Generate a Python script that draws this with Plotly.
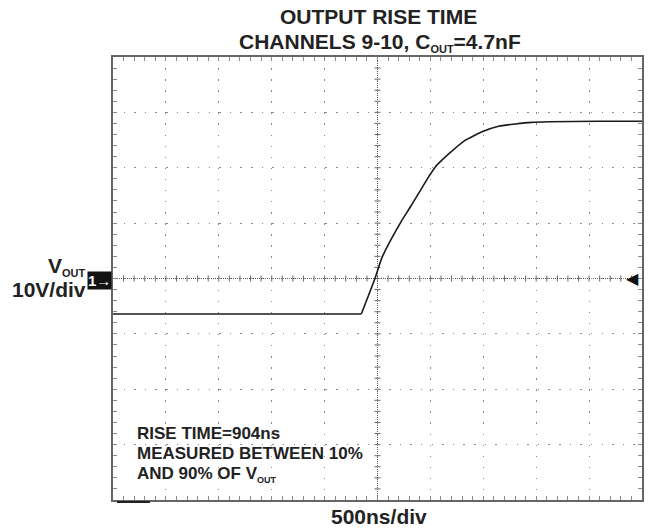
import plotly.graph_objects as go

# Trace (time in ns, voltage in V)
time_ns = [-2500, -1500, -500, -153, -24, 45, 218, 313, 485, 548, 673, 830, 862, 987, 1144, 1301, 1455, 1615, 2085, 2500]
vout_v = [-6.4, -6.4, -6.4, -6.4, 0.0, 3.9, 10.1, 13.0, 18.4, 20.2, 22.5, 25.0, 25.3, 26.5, 27.5, 27.9, 28.2, 28.3, 28.4, 28.4]

x_range = [-2500, 2500]
y_range = [-40, 40]
x_div = 500
y_div = 10
x_minor = 100
y_minor = 2

FONT = "Liberation Sans, Arial, sans-serif"
GRID = "#8a8a8a"
FRAME = "#666666"
TXT = "#222222"

fig = go.Figure()
fig.add_trace(go.Scatter(x=time_ns[:4], y=vout_v[:4], mode="lines",
                         line=dict(color="#1a1a1a", width=1.6),
                         showlegend=False, hoverinfo="skip"))
fig.add_trace(go.Scatter(x=time_ns[3:], y=vout_v[3:], mode="lines",
                         line=dict(color="#1a1a1a", width=1.6, shape="spline", smoothing=0.6),
                         showlegend=False, hoverinfo="skip"))

W, H = 650, 531
L, R, T, B = 113, 6, 57, 31
pw, ph = W - L - R, H - T - B
xper = pw / 50.0
yper = ph / 40.0

fig.update_layout(
    width=W, height=H,
    margin=dict(l=L, r=R, t=T, b=B),
    paper_bgcolor="white", plot_bgcolor="white",
    showlegend=False,
    xaxis=dict(range=x_range, dtick=x_div, tick0=0, showticklabels=False,
               ticks="inside", ticklen=4, tickcolor=GRID, tickwidth=1,
               showline=True, linecolor=FRAME, linewidth=2, mirror="ticks",
               showgrid=True, gridcolor=GRID, gridwidth=1.2,
               griddash="1.5px,%.3fpx" % (yper - 1.5),
               zeroline=False,
               minor=dict(dtick=x_minor, tick0=0, ticks="inside", ticklen=4,
                          tickcolor=GRID, tickwidth=1, showgrid=False)),
    yaxis=dict(range=y_range, dtick=y_div, tick0=0, showticklabels=False,
               ticks="inside", ticklen=4, tickcolor=GRID, tickwidth=1,
               showline=True, linecolor=FRAME, linewidth=2, mirror="ticks",
               showgrid=True, gridcolor=GRID, gridwidth=1.2,
               griddash="1.5px,%.3fpx" % (xper - 1.5),
               zeroline=False,
               minor=dict(dtick=y_minor, tick0=0, ticks="inside", ticklen=4,
                          tickcolor=GRID, tickwidth=1, showgrid=False)),
)

shapes = []
shapes.append(dict(type="line", xref="x", yref="y", x0=0, x1=0, y0=y_range[0], y1=y_range[1],
                   line=dict(color="#555555", width=1, dash="1px,1px"), layer="below"))
shapes.append(dict(type="line", xref="x", yref="y", x0=x_range[0], x1=x_range[1], y0=0, y1=0,
                   line=dict(color="#555555", width=1, dash="1px,1px"), layer="below"))
v = y_range[0] + y_minor
while v < y_range[1]:
    shapes.append(dict(type="line", xref="x", yref="y", xsizemode="pixel", xanchor=0,
                       x0=-3, x1=3, y0=v, y1=v, line=dict(color="#666666", width=1), layer="below"))
    v += y_minor
t = x_range[0] + x_minor
while t < x_range[1]:
    shapes.append(dict(type="line", xref="x", yref="y", ysizemode="pixel", yanchor=0,
                       y0=-3, y1=3, x0=t, x1=t, line=dict(color="#666666", width=1), layer="below"))
    t += x_minor
shapes.append(dict(type="line", xref="paper", yref="paper", x0=4 / pw, x1=37 / pw,
                   y0=-2 / ph, y1=-2 / ph, line=dict(color="#222222", width=2)))
fig.update_layout(shapes=shapes)

def px(xp):
    return (xp - L) / pw

def py(yp):
    return (T + ph - yp) / ph

def sub(s, size):
    return '<sub><span style="font-size:%dpx">%s</span></sub>' % (size, s)

ann = []
ann.append(dict(text="<b>OUTPUT RISE TIME</b>", x=px(380), y=py(16), xref="paper", yref="paper",
                xanchor="center", yanchor="middle", showarrow=False,
                font=dict(family=FONT, size=21, color=TXT)))
ann.append(dict(text="<b>CHANNELS 9-10, C" + sub("OUT", 11) + "=4.7nF</b>", x=px(381), y=py(42),
                xref="paper", yref="paper",
                xanchor="center", yanchor="middle", showarrow=False,
                font=dict(family=FONT, size=21, color=TXT)))
ann.append(dict(text="<b>500ns/div</b>", x=px(380), y=py(516), xref="paper", yref="paper",
                xanchor="center", yanchor="middle", showarrow=False,
                font=dict(family=FONT, size=21, color=TXT)))
ann.append(dict(text="<b>V" + sub("OUT", 11) + "</b>", x=px(88), y=py(266), xref="paper", yref="paper",
                xanchor="right", yanchor="middle", showarrow=False,
                font=dict(family=FONT, size=21, color=TXT)))
ann.append(dict(text="<b>10V/div</b>", x=px(88), y=py(289), xref="paper", yref="paper",
                xanchor="right", yanchor="middle", showarrow=False,
                font=dict(family=FONT, size=21, color=TXT)))
for txt, yp in [("<b>RISE TIME=904ns</b>", 433),
                ("<b>MEASURED BETWEEN 10%</b>", 453),
                ("<b>AND 90% OF V" + sub("OUT", 9) + "</b>", 474)]:
    ann.append(dict(text=txt, x=px(135), y=py(yp), xref="paper", yref="paper",
                    xanchor="left", yanchor="middle", showarrow=False,
                    font=dict(family=FONT, size=17, color=TXT)))
ann.append(dict(text="<b>1→</b>", x=0, y=0, xref="paper", yref="y", xanchor="right",
                yanchor="middle", xshift=-1, yshift=-2, showarrow=False, bgcolor="#111111",
                borderpad=0, font=dict(family=FONT, size=15, color="white")))
ann.append(dict(text="◀", x=1, y=0, xref="paper", yref="y", xanchor="right",
                yanchor="middle", xshift=-1, showarrow=False,
                font=dict(family="DejaVu Sans", size=16, color="#111111")))
fig.update_layout(annotations=ann)

fig.write_html("out.html")
